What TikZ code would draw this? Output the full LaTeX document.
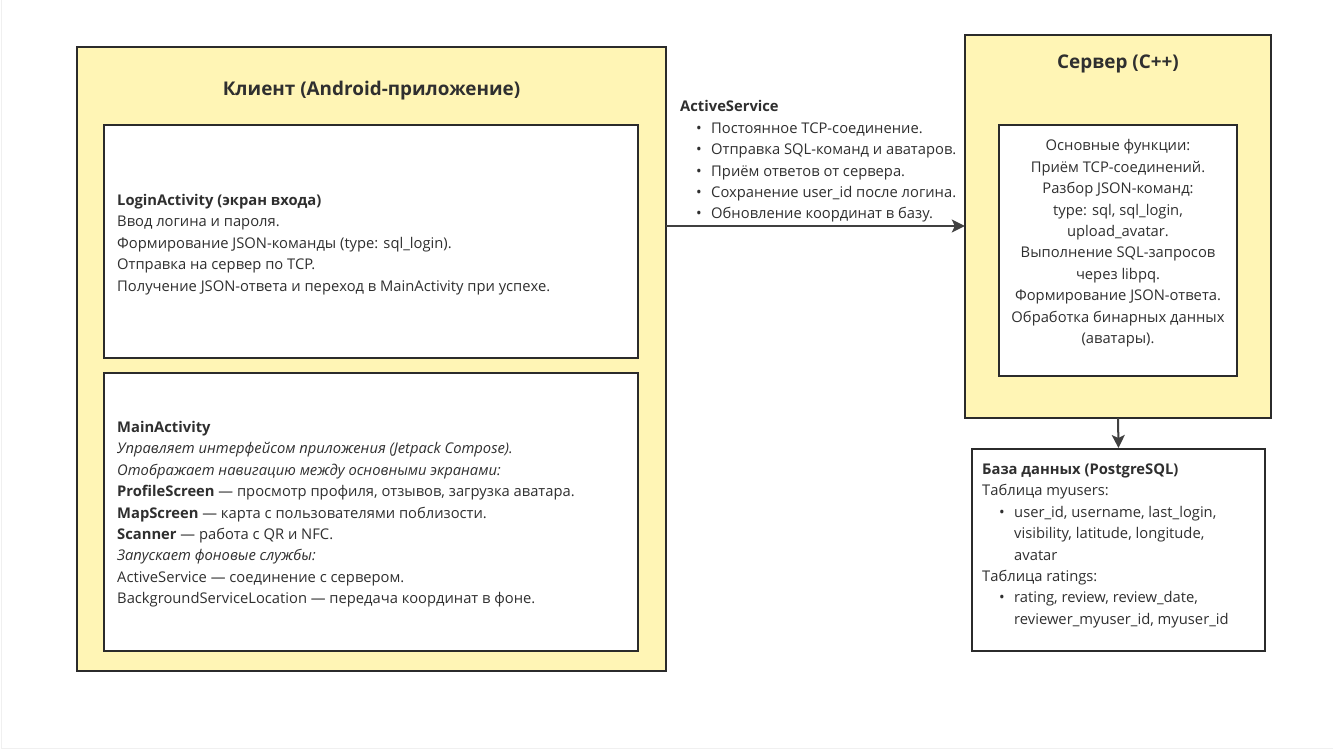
\documentclass[tikz,border=0pt]{standalone}
\usepackage{fontspec}
\setmainfont{Open Sans}
\usetikzlibrary{arrows.meta}
\definecolor{boxyellow}{HTML}{FFF5B5}
\definecolor{edge}{HTML}{2B2B2B}
\definecolor{txt}{HTML}{2F2F2F}
\newcommand{\bul}{\makebox[15pt][l]{\fontsize{15}{15}\selectfont\raisebox{0pt}{•}}}
\begin{document}
\begin{tikzpicture}[x=1pt,y=-1pt,
  outerbox/.style={draw=edge,line width=2pt,fill=boxyellow},
  innerbox/.style={draw=edge,line width=2pt,fill=white},
  body/.style={inner sep=0pt,text=txt,font=\fontsize{14.75}{21.4}\selectfont},
  titletext/.style={inner sep=0pt,text=txt,font=\fontsize{18.9}{22}\selectfont\bfseries},
  conn/.style={draw=edge!90,line width=2pt,-{Stealth[length=13pt,width=13pt,inset=3pt]}}]
\useasboundingbox (0,0) rectangle (1333,750);
\fill[white] (0,0) rectangle (1333,750);
\draw[black!6,line width=1pt] (1,0) -- (1,748) -- (1333,748);
% client
\path[outerbox] (77,47) rectangle (666,671);
\node[titletext] (clienttitle) at (371.5,91) {Клиент (Android-приложение)};
\path[innerbox] (104,125) rectangle (638,358);
\node[body,anchor=north west,align=left] (login) at (117,194) {\textbf{LoginActivity (экран входа)}\\
Ввод логина и пароля.\\
Формирование JSON-команды (type: sql\_login).\\
Отправка на сервер по TCP.\\
Получение JSON-ответа и переход в MainActivity при успехе.};
\path[innerbox] (104,373) rectangle (638,651);
\node[body,anchor=north west,align=left] (main) at (117,421) {\textbf{MainActivity}\\
\textit{Управляет интерфейсом приложения (Jetpack Compose).}\\
\textit{Отображает навигацию между основными экранами:}\\
\textbf{ProfileScreen} — просмотр профиля, отзывов, загрузка аватара.\\
\textbf{MapScreen} — карта с пользователями поблизости.\\
\textbf{Scanner} — работа с QR и NFC.\\
\textit{Запускает фоновые службы:}\\
ActiveService — соединение с сервером.\\
BackgroundServiceLocation — передача координат в фоне.};
% server
\path[outerbox] (965,35) rectangle (1271,418);
\node[titletext] (servertitle) at (1118,64) {Сервер (C++)};
\path[innerbox] (999,125) rectangle (1237,376);
\node[body,anchor=north,align=center] (serverfunc) at (1118,139.5) {Основные функции:\\
Приём TCP-соединений.\\
Разбор JSON-команд:\\
type: sql, sql\_login,\\
upload\_avatar.\\
Выполнение SQL-запросов\\
через libpq.\\
Формирование JSON-ответа.\\
Обработка бинарных данных\\
(аватары).};
% database
\node[innerbox,minimum width=293pt,minimum height=202pt,inner sep=0pt] (db) at (1118.5,550) {};
\node[body,anchor=north west,align=left] (dbtext) at (982,463.5) {\textbf{База данных (PostgreSQL)}\\
Таблица myusers:\\
\hspace{17pt}\bul user\_id, username, last\_login,\\
\hspace{32pt}visibility, latitude, longitude,\\
\hspace{32pt}avatar\\
Таблица ratings:\\
\hspace{17pt}\bul rating, review, review\_date,\\
\hspace{32pt}reviewer\_myuser\_id, myuser\_id};
% active service label
\node[body,anchor=north west,align=left] (aslabel) at (680,100.5) {\textbf{ActiveService}\\
\hspace{16pt}\bul Постоянное TCP-соединение.\\
\hspace{16pt}\bul Отправка SQL-команд и аватаров.\\
\hspace{16pt}\bul Приём ответов от сервера.\\
\hspace{16pt}\bul Сохранение user\_id после логина.\\
\hspace{16pt}\bul Обновление координат в базу.};
% named nodes for outer boxes
\node[inner sep=0pt,minimum width=589pt,minimum height=624pt] (clientbox) at (371.5,359) {};
\node[inner sep=0pt,minimum width=306pt,minimum height=383pt] (serverbox) at (1118,226.5) {};
\coordinate (arrowY) at (0,226);
% connectors
\draw[conn] (clientbox.east |- arrowY) -- (serverbox.west |- arrowY);
\draw[conn] (serverbox.south) -- (db.north);
\end{tikzpicture}
\end{document}
